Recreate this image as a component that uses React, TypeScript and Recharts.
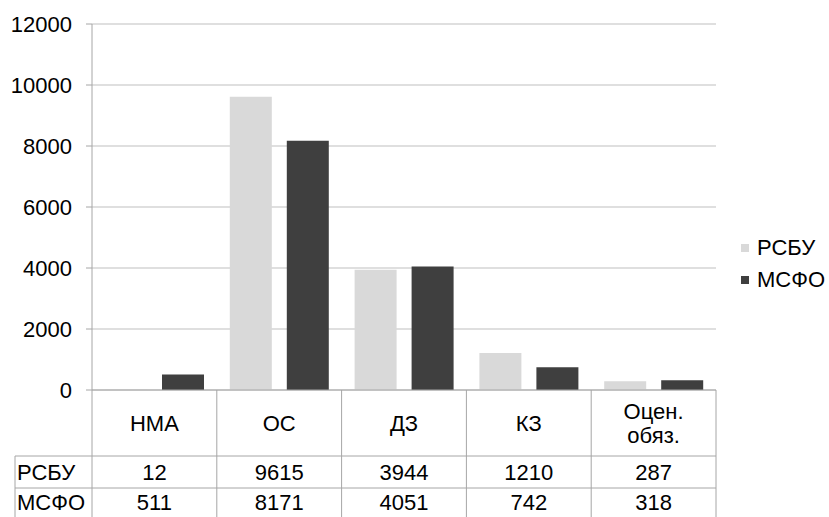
import React from 'react'
import { BarChart, Bar, XAxis, YAxis, CartesianGrid } from 'recharts'

const categories = ['НМА', 'ОС', 'ДЗ', 'КЗ', 'Оцен. обяз.']
const rsbu = [12, 9615, 3944, 1210, 287]
const msfo = [511, 8171, 4051, 742, 318]
const yTicks = [0, 2000, 4000, 6000, 8000, 10000, 12000]
const seriesNames = ['РСБУ', 'МСФО']

const W = 829
const H = 517
const M = { top: 24, right: 113, bottom: 0, left: 0 }
const Y_AXIS_W = 92
const X_AXIS_H = 127
const FONT = '"Liberation Sans", Arial, sans-serif'
const LINE = '#a6a6a6'
const COLORS = ['#d9d9d9', '#3f3f3f']

const rows = categories.map((c, i) => ({ name: c, rsbu: rsbu[i], msfo: msfo[i] }))

// band width of one category column
const plotLeft = M.left + Y_AXIS_W
const plotRight = W - M.right
const plotBottom = H - X_AXIS_H
const band = (plotRight - plotLeft) / categories.length

const rowTop1 = 456
const rowTop2 = 488
const tableLeft = 15

function TableTick(props: any) {
  const { x, index, payload } = props
  const left = x - band / 2
  const right = x + band / 2
  const words: string[] = String(payload.value).split(' ')
  const labelMid = (plotBottom + rowTop1) / 2
  const lh = 24
  const start = labelMid - ((words.length - 1) * lh) / 2
  return (
    <g fontFamily={FONT} fontSize={22} fill="#000">
      {index === 0 && (
        <g>
          <line x1={tableLeft} x2={plotRight} y1={rowTop1} y2={rowTop1} stroke={LINE} />
          <line x1={tableLeft} x2={plotRight} y1={rowTop2} y2={rowTop2} stroke={LINE} />
          <line x1={tableLeft} x2={tableLeft} y1={rowTop1} y2={H} stroke={LINE} />
          <text x={17} y={(rowTop1 + rowTop2) / 2} dy="0.355em" textAnchor="start">{seriesNames[0]}</text>
          <text x={17} y={(rowTop2 + H) / 2} dy="0.355em" textAnchor="start">{seriesNames[1]}</text>
        </g>
      )}
      <line x1={left} x2={left} y1={plotBottom} y2={H} stroke={LINE} />
      {index === categories.length - 1 && (
        <line x1={right} x2={right} y1={plotBottom} y2={H} stroke={LINE} />
      )}
      {words.map((w, k) => (
        <text key={k} x={x} y={start + k * lh} dy="0.355em" textAnchor="middle">{w}</text>
      ))}
      <text x={x} y={(rowTop1 + rowTop2) / 2} dy="0.355em" textAnchor="middle">{rsbu[index]}</text>
      <text x={x} y={(rowTop2 + H) / 2} dy="0.355em" textAnchor="middle">{msfo[index]}</text>
    </g>
  )
}

function SideLegend() {
  return (
    <div style={{ position: 'absolute', left: 741, top: 232, fontFamily: FONT, fontSize: 22, color: '#000' }}>
      {seriesNames.map((n, i) => (
        <div key={n} style={{ display: 'flex', alignItems: 'center', height: 32 }}>
          <span style={{ width: 8, height: 8, background: COLORS[i], marginRight: 8, display: 'inline-block' }} />
          <span>{n}</span>
        </div>
      ))}
    </div>
  )
}

export default function App() {
  return (
    <div style={{ position: 'absolute', left: 0, top: 0, width: W, height: H, background: '#fff' }}>
      <BarChart width={W} height={H} data={rows} margin={M} barSize={42} barGap={15}>
        <CartesianGrid vertical={false} stroke="#bfbfbf" />
        <XAxis
          dataKey="name"
          interval={0}
          height={X_AXIS_H}
          tickLine={false}
          axisLine={{ stroke: LINE }}
          tick={<TableTick />}
        />
        <YAxis
          domain={[0, 12000]}
          ticks={yTicks}
          interval={0}
          width={Y_AXIS_W}
          tickSize={6}
          tickMargin={14}
          tickLine={{ stroke: LINE }}
          axisLine={{ stroke: LINE }}
          tick={{ fill: '#000', fontSize: 22, fontFamily: FONT }}
        />
        <Bar dataKey="rsbu" name={seriesNames[0]} fill={COLORS[0]} isAnimationActive={false} />
        <Bar dataKey="msfo" name={seriesNames[1]} fill={COLORS[1]} isAnimationActive={false} />
      </BarChart>
      <SideLegend />
    </div>
  )
}
